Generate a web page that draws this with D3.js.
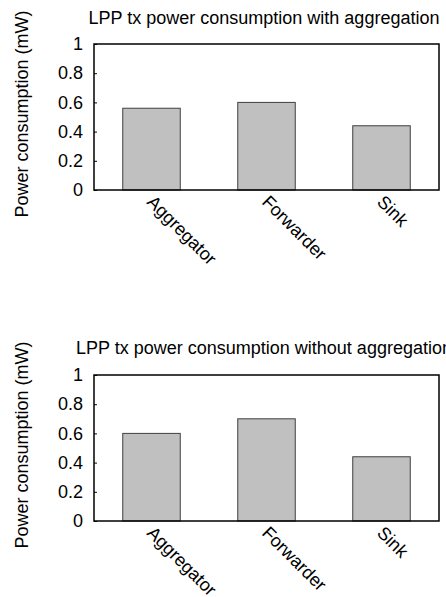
<!DOCTYPE html>
<html>
<head>
<meta charset="utf-8">
<script src="https://cdn.jsdelivr.net/npm/d3@7"></script>
<style>
  body { margin: 0; background: #fff; }
  text { font-family: "Liberation Sans", Arial, sans-serif; fill: #000; }
</style>
</head>
<body>
<div id="chart"></div>
<script>
const categories = ["Aggregator", "Forwarder", "Sink"];
const withAggregation = [0.56, 0.60, 0.44];
const withoutAggregation = [0.60, 0.70, 0.44];
const yTicks = [0, 0.2, 0.4, 0.6, 0.8, 1];
const titles = [
  "LPP tx power consumption with aggregation",
  "LPP tx power consumption without aggregation"
];
const yLabel = "Power consumption (mW)";

const W = 446, H = 597;
const svg = d3.select("#chart").append("svg")
  .attr("width", W).attr("height", H);

const margin = { left: 94, right: 7 };
const plotW = W - margin.left - margin.right;
const plotH = 146;
const fontSize = "18px";

function drawPanel(values, title, top, titleDy) {
  const g = svg.append("g").attr("transform", `translate(${margin.left},${top})`);

  const x = d3.scaleBand().domain(categories).range([0, plotW]).paddingInner(0.5).paddingOuter(0.25);
  const y = d3.scaleLinear().domain([0, 1]).range([plotH, 0]);

  // bars
  g.selectAll(".bar")
    .data(values)
    .join("rect")
    .attr("class", "bar")
    .attr("x", (d, i) => x(categories[i]))
    .attr("y", (d) => y(d))
    .attr("width", x.bandwidth())
    .attr("height", (d) => plotH - y(d))
    .attr("fill", "#c0c0c0")
    .attr("stroke", "#404040")
    .attr("stroke-width", 1);

  // y axis, ticks pointing inward
  g.append("g")
    .call(d3.axisLeft(y).tickValues(yTicks).tickFormat(d3.format("~g")).tickSize(-3).tickPadding(11))
    .call((a) => a.select(".domain").remove())
    .call((a) => a.selectAll("line").attr("stroke", "#000"))
    .selectAll("text")
    .attr("font-size", fontSize)
    .attr("font-family", "Liberation Sans, Arial, sans-serif")
    .attr("fill", "#000");

  // frame
  g.append("rect")
    .attr("width", plotW).attr("height", plotH)
    .attr("fill", "none").attr("stroke", "#000").attr("stroke-width", 1.5);

  // x labels rotated
  g.selectAll(".xlab")
    .data(categories)
    .join("text")
    .attr("class", "xlab")
    .attr("transform", (d) => `translate(${x(d) + x.bandwidth() / 2 - 5.5},${plotH + 13}) rotate(45)`)
    .attr("font-size", fontSize)
    .text((d) => d);

  // title
  g.append("text")
    .attr("x", plotW / 2 - 2.5)
    .attr("y", titleDy)
    .attr("text-anchor", "middle")
    .attr("font-size", fontSize)
    .text(title);

  // y label
  g.append("text")
    .attr("transform", `translate(${28 - margin.left},${plotH / 2 - 3}) rotate(-90)`)
    .attr("text-anchor", "middle")
    .attr("font-size", fontSize)
    .text(yLabel);
}

drawPanel(withAggregation, titles[0], 44, -20);
drawPanel(withoutAggregation, titles[1], 375, -21.5);
</script>
</body>
</html>
